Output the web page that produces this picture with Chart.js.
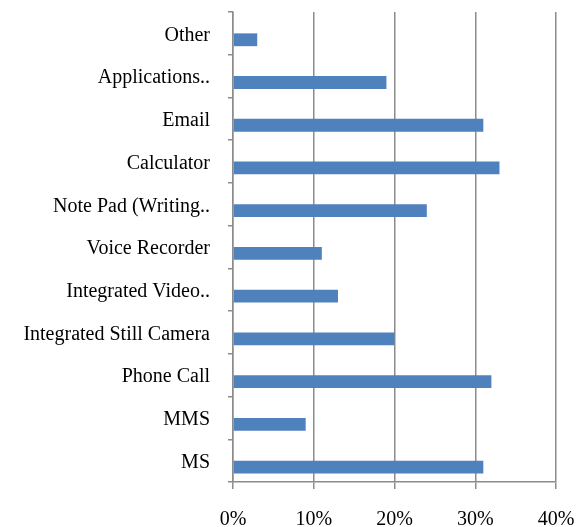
<!DOCTYPE html>
<html>
<head>
<meta charset="utf-8">
<script src="https://cdn.jsdelivr.net/npm/chart.js@4"></script>
<style>
  html, body { margin: 0; padding: 0; background: #fff; }
  #wrap { width: 581px; height: 527px; }
</style>
</head>
<body>
<div id="wrap"><canvas id="chart" width="581" height="527"></canvas></div>
<script>
// ── DATOS ─────────────────────────────────────────────
const categorias = [
    'Other',
    'Applications..',
    'Email',
    'Calculator',
    'Note Pad (Writing..',
    'Voice Recorder',
    'Integrated Video..',
    'Integrated Still Camera',
    'Phone Call',
    'MMS',
    'MS',
];
const porcentajes = [3, 19, 31, 33, 24, 11, 13, 20, 32, 9, 31];
const ticksX = [0, 10, 20, 30, 40];

const GRIS = '#8c8c8c';
const AZUL = '#4f81bd';

Chart.defaults.font.family = '"Liberation Serif", "Times New Roman", serif';
Chart.defaults.font.size = 20;
Chart.defaults.color = '#000';

new Chart(document.getElementById('chart').getContext('2d'), {
    type: 'bar',
    data: {
        labels: categorias,
        datasets: [
            // serie vacía: ocupa el primer hueco del grupo, como en el original
            { label: '', data: [], backgroundColor: AZUL },
            {
                label: 'Uso',
                data: porcentajes,
                backgroundColor: AZUL,
                borderWidth: 0,
            },
        ],
    },
    options: {
        indexAxis: 'y',
        responsive: false,
        animation: false,
        layout: { padding: { top: 12, right: 25, bottom: 0, left: 0 } },
        datasets: { bar: { categoryPercentage: 0.6, barPercentage: 1 } },
        plugins: { legend: { display: false }, tooltip: { enabled: false } },
        scales: {
            x: {
                min: 0,
                max: 40,
                afterBuildTicks: s => { s.ticks = ticksX.map(v => ({ value: v })); },
                ticks: { callback: v => v + '%', padding: 19, maxRotation: 0 },
                grid: { color: GRIS, lineWidth: 1.5, tickLength: 7 },
                border: { color: GRIS, width: 1.5 },
                afterFit: s => { s.height = 45; s.paddingLeft = 0; s.paddingRight = 0; },
            },
            y: {
                ticks: { padding: 18, labelOffset: 2, autoSkip: false },
                grid: { drawOnChartArea: false, color: GRIS, lineWidth: 1.5, tickLength: 5, offset: true },
                border: { color: GRIS, width: 1.5 },
                afterFit: s => { s.width = 233; s.paddingTop = 0; s.paddingBottom = 0; },
            },
        },
    },
});
</script>
</body>
</html>
